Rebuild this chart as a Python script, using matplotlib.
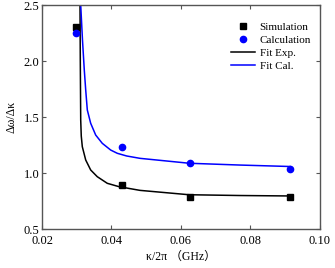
import numpy as np
import matplotlib
matplotlib.use('Agg')
import matplotlib.pyplot as plt

plt.rcParams['font.family'] = ['Liberation Serif', 'Noto Sans CJK SC', 'DejaVu Sans']

# measured points
kappa_pts = [0.0298, 0.0429, 0.0626, 0.0914]
sim_vals = [2.30, 0.895, 0.79, 0.79]
cal_vals = [2.25, 1.23, 1.09, 1.04]

# fit curves
fit_exp_x = [0.03094, 0.03102, 0.03114, 0.03130, 0.0316, 0.03258, 0.03401, 0.03591,
             0.03879, 0.04216, 0.0482, 0.0623, 0.0770, 0.0914]
fit_exp_y = [2.50, 2.009, 1.473, 1.33, 1.235, 1.116, 1.027, 0.967,
             0.908, 0.878, 0.845, 0.806, 0.799, 0.795]
fit_cal_x = [0.03114, 0.03165, 0.03217, 0.03258, 0.03304, 0.03401, 0.03545,
             0.03735, 0.03977, 0.04167, 0.04437, 0.0482, 0.0624, 0.0770, 0.0914]
fit_cal_y = [2.50, 2.1875, 1.92, 1.741, 1.5625, 1.444, 1.339,
             1.265, 1.205, 1.176, 1.152, 1.131, 1.087, 1.071, 1.058]

fig = plt.figure(figsize=(3.35, 2.68), dpi=100)
ax = fig.add_axes([0.1254, 0.1455, 0.8296, 0.8358])

ax.plot(kappa_pts, sim_vals, 's', color='black', markersize=4, label='Simulation', zorder=3)
ax.plot(kappa_pts, cal_vals, 'o', color='blue', markersize=4.5, label='Calculation', zorder=3)
ax.plot(fit_exp_x, fit_exp_y, '-', color='black', lw=1.1, label='Fit Exp.')
ax.plot(fit_cal_x, fit_cal_y, '-', color='blue', lw=1.1, label='Fit Cal.')

ax.set_xlim(0.02, 0.10)
ax.set_ylim(0.5, 2.5)
ax.set_xticks([0.02, 0.04, 0.06, 0.08, 0.10])
ax.set_yticks([0.5, 1.0, 1.5, 2.0, 2.5])
ax.set_xticklabels(['0.02', '0.04', '0.06', '0.08', '0.10'])
ax.set_yticklabels(['0.5', '1.0', '1.5', '2.0', '2.5'])
ax.tick_params(direction='in', top=True, right=True, length=3, width=0.8,
               color='#555555', labelsize=9, pad=2)
ax.tick_params(axis='x', pad=4)
for sp in ax.spines.values():
    sp.set_color('#555555')
    sp.set_linewidth(1.0)

ax.set_xlabel('κ/2π （GHz）', fontsize=8.5, labelpad=3)
ax.set_ylabel('Δω/Δκ', fontsize=8.5, labelpad=4)

ax.legend(loc='upper right', frameon=False, fontsize=8, handlelength=2.2,
          handletextpad=0.4, labelspacing=0.3, borderaxespad=0.4,
          bbox_to_anchor=(1.0, 0.965))

fig.savefig('out.png', dpi=100)
